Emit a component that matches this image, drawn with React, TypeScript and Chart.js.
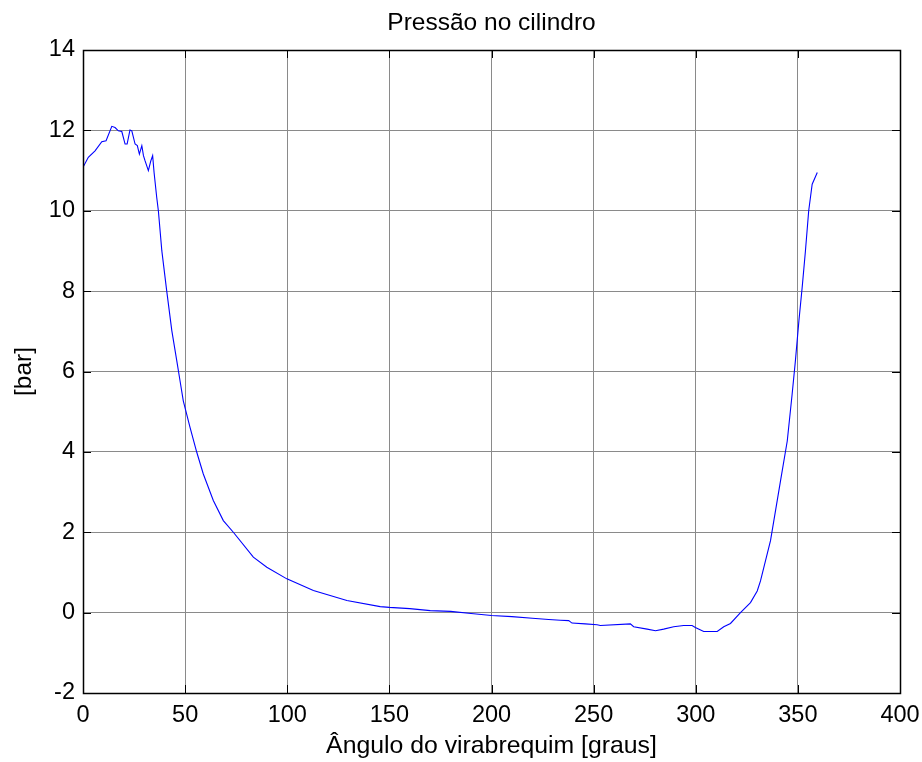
import React, { useEffect, useRef } from "react";
import { Chart, registerables } from "chart.js";

Chart.register(...registerables);

const chartTitle = "Pressão no cilindro";
const xAxisTitle = "Ângulo do virabrequim [graus]";
const yAxisTitle = "[bar]";

const xTicks = [0, 50, 100, 150, 200, 250, 300, 350, 400];
const yTicks = [-2, 0, 2, 4, 6, 8, 10, 12, 14];

const crankAngle = [
  0, 2.6, 5.9, 9.2, 11.3, 14.1, 15.7, 17.3, 19.0, 20.6, 21.6, 23.0, 23.9, 25.5, 26.6, 27.6,
  28.8, 29.6, 30.4, 32.0, 33.2, 34.1, 34.8, 36.1, 36.9, 38.6, 41.0, 43.5, 45.9, 47.5, 49.1,
  52.4, 55.7, 58.9, 63.8, 68.7, 73.6, 83.4, 90.0, 99.8, 112.8, 129.2, 145.5, 150, 160, 170,
  180, 190, 200, 210, 220, 228, 233.7, 237.8, 239.4, 245.9, 251.7, 253.3, 268.0, 269.6,
  276.2, 280.3, 284.3, 289.2, 294.1, 298.2, 299.8, 303.9, 310.5, 313.7, 317.0, 321.9,
  326.8, 330.1, 331.7, 336.6, 341.5, 344.8, 347.2, 348.8, 350.5, 352.1, 353.7, 355.3,
  357.0, 359.5,
];

const pressure = [
  11.08, 11.33, 11.49, 11.72, 11.74, 12.1, 12.07, 11.99, 11.97, 11.66, 11.66, 12.01, 11.99,
  11.66, 11.62, 11.41, 11.62, 11.37, 11.24, 11.0, 11.24, 11.37, 10.95, 10.33, 10.0, 9.0,
  8.0, 7.01, 6.27, 5.77, 5.27, 4.61, 3.99, 3.45, 2.79, 2.29, 2.0, 1.38, 1.13, 0.84, 0.55,
  0.3, 0.15, 0.13, 0.1, 0.05, 0.03, -0.02, -0.07, -0.1, -0.14, -0.17, -0.19, -0.2, -0.26,
  -0.28, -0.3, -0.32, -0.28, -0.35, -0.41, -0.45, -0.41, -0.35, -0.32, -0.32, -0.37, -0.47,
  -0.47, -0.35, -0.27, 0.0, 0.25, 0.54, 0.79, 1.79, 3.28, 4.27, 5.44, 6.27, 7.26, 8.09,
  9.0, 10.0, 10.66, 10.95,
];

const FONT = "'Liberation Sans', Arial, Helvetica, sans-serif";

const frameTicks = {
  id: "frameTicks",
  afterDatasetsDraw(chart: any) {
    const { ctx, chartArea, scales } = chart;
    const { left, right, top, bottom } = chartArea;
    const len = 8;
    ctx.save();
    ctx.strokeStyle = "#000";
    ctx.lineWidth = 1;
    ctx.beginPath();
    for (const v of xTicks) {
      const px = Math.round(scales.x.getPixelForValue(v)) + 0.5;
      ctx.moveTo(px, bottom);
      ctx.lineTo(px, bottom - len);
      ctx.moveTo(px, top);
      ctx.lineTo(px, top + len);
    }
    for (const v of yTicks) {
      const py = Math.round(scales.y.getPixelForValue(v)) + 0.5;
      ctx.moveTo(left, py);
      ctx.lineTo(left + len, py);
      ctx.moveTo(right, py);
      ctx.lineTo(right - len, py);
    }
    ctx.stroke();
    ctx.lineWidth = 1.5;
    ctx.strokeRect(Math.round(left) + 0.5, Math.round(top) + 0.5, Math.round(right - left), Math.round(bottom - top));
    ctx.restore();
  },
};

export default function App() {
  const ref = useRef<HTMLCanvasElement | null>(null);

  useEffect(() => {
    if (!ref.current) return;
    const points = crankAngle.map((x, i) => ({ x, y: pressure[i] }));
    const chart = new Chart(ref.current, {
      type: "scatter",
      data: {
        datasets: [
          {
            data: points,
            showLine: true,
            borderColor: "#0000ff",
            backgroundColor: "#0000ff",
            borderWidth: 1.1,
            pointRadius: 0,
            tension: 0,
          },
        ],
      },
      plugins: [frameTicks],
      options: {
        responsive: false,
        animation: false,
        layout: { padding: { left: 0, right: 22, top: 0, bottom: 0 } },
        plugins: {
          legend: { display: false },
          tooltip: { enabled: false },
          title: {
            display: true,
            text: chartTitle,
            fullSize: false,
            color: "#000",
            font: { family: FONT, size: 24.5, weight: "normal", lineHeight: 1.2 },
            padding: { top: 9, bottom: 11.6 },
          },
        },
        scales: {
          x: {
            type: "linear",
            min: 0,
            max: 400,
            afterFit: (s: any) => {
              s.height = 69;
              s.paddingLeft = 0;
              s.paddingRight = 0;
            },
            afterBuildTicks: (s: any) => {
              s.ticks = xTicks.map((v) => ({ value: v }));
            },
            ticks: {
              color: "#000",
              padding: 8,
              maxRotation: 0,
              autoSkip: false,
              font: { family: FONT, size: 23.5 },
            },
            grid: { color: "#8a8a8a", lineWidth: 1, drawTicks: false },
            border: { display: false },
            title: {
              display: true,
              text: xAxisTitle,
              color: "#000",
              font: { family: FONT, size: 24.8, lineHeight: 1.2 },
              padding: { top: 0, bottom: 1 },
            },
          },
          y: {
            type: "linear",
            min: -2,
            max: 14,
            afterFit: (s: any) => {
              s.width = 83;
              s.paddingTop = 0;
              s.paddingBottom = 0;
            },
            afterBuildTicks: (s: any) => {
              s.ticks = yTicks.map((v) => ({ value: v }));
            },
            ticks: {
              color: "#000",
              padding: 8,
              autoSkip: false,
              font: { family: FONT, size: 23.5 },
            },
            grid: { color: "#8a8a8a", lineWidth: 1, drawTicks: false },
            border: { display: false },
            title: {
              display: true,
              text: yAxisTitle,
              color: "#000",
              font: { family: FONT, size: 24.5, lineHeight: 1.2 },
              padding: { top: 10, bottom: 0 },
            },
          },
        },
      },
    });
    return () => chart.destroy();
  }, []);

  return (
    <canvas
      ref={ref}
      width={922}
      height={762}
      style={{ position: "absolute", left: 0, top: 0, display: "block", background: "#fff" }}
    />
  );
}
